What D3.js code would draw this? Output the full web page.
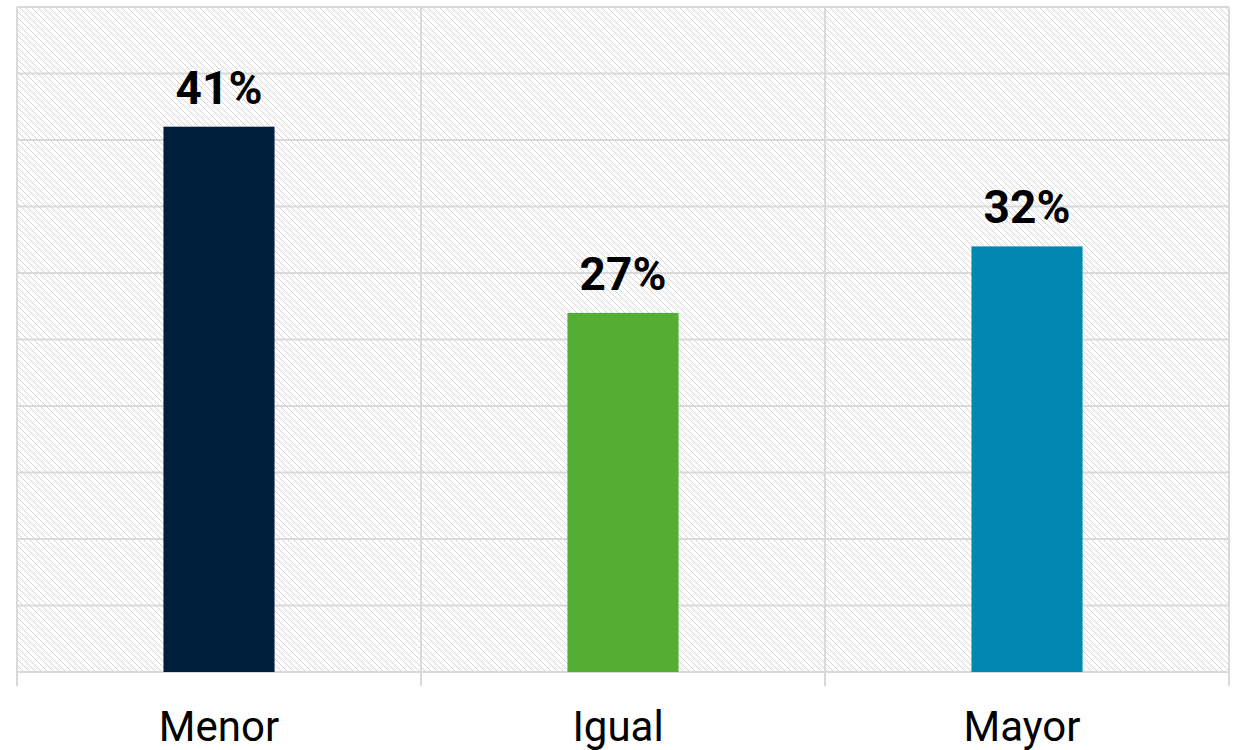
<!DOCTYPE html>
<html>
<head>
<meta charset="utf-8">
<script src="https://cdn.jsdelivr.net/npm/d3@7"></script>
<style>
  html, body { margin: 0; padding: 0; background: #fff; }
  svg { display: block; }
</style>
</head>
<body>
<svg id="chart" width="1235" height="750"></svg>
<script>
const categories = ["Menor", "Igual", "Mayor"];
const values = [41, 27, 32];
const colors = ["#001f3d", "#55ae34", "#0088b0"];
const yTicks = [0, 5, 10, 15, 20, 25, 30, 35, 40, 45, 50];

const svg = d3.select("#chart");
const plotLeft = 17, plotRight = 1229, plotTop = 7, plotBottom = 672;

const x = d3.scaleBand().domain(categories).range([plotLeft, plotRight])
  .paddingInner(0.725).paddingOuter(0.3625);
const y = d3.scaleLinear().domain([0, 50]).range([plotBottom, plotTop]);

const defs = svg.append("defs");
const pat = defs.append("pattern").attr("id", "hatch")
  .attr("patternUnits", "userSpaceOnUse").attr("width", 6).attr("height", 6);
pat.append("path").attr("d", "M-1,-1 L7,7 M5,-1 L7,1 M-1,5 L1,7")
  .attr("stroke", "#d4d4d4").attr("stroke-width", 1.2)
  .attr("shape-rendering", "crispEdges");

svg.append("rect").attr("x", plotLeft).attr("y", plotTop)
  .attr("width", plotRight - plotLeft).attr("height", plotBottom - plotTop)
  .attr("fill", "url(#hatch)");

// horizontal gridlines
svg.append("g").selectAll("line").data(yTicks).join("line")
  .attr("x1", plotLeft).attr("x2", plotRight)
  .attr("y1", d => y(d)).attr("y2", d => y(d))
  .attr("stroke", "#d9d9d9").attr("stroke-width", 2);

// vertical gridlines at band boundaries
const step = x.step();
const bounds = d3.range(categories.length + 1).map(i => plotLeft + i * step);
svg.append("g").selectAll("line").data(bounds).join("line")
  .attr("x1", d => d).attr("x2", d => d)
  .attr("y1", plotTop).attr("y2", plotBottom + 14)
  .attr("stroke", "#d9d9d9").attr("stroke-width", 2);

// bars
svg.append("g").selectAll("rect").data(values).join("rect")
  .attr("x", (d, i) => x(categories[i]))
  .attr("width", x.bandwidth())
  .attr("y", d => y(d))
  .attr("height", d => y(0) - y(d))
  .attr("fill", (d, i) => colors[i]);

// value labels
svg.append("g").selectAll("text").data(values).join("text")
  .attr("x", (d, i) => x(categories[i]) + x.bandwidth() / 2)
  .attr("y", d => y(d) - 23)
  .attr("text-anchor", "middle")
  .attr("font-family", "Roboto, sans-serif")
  .attr("font-weight", "bold")
  .attr("font-size", 46)
  .attr("fill", "#000")
  .text(d => d + "%");

// category labels
svg.append("g").selectAll("text").data(categories).join("text")
  .attr("x", d => x(d) + x.bandwidth() / 2)
  .attr("dx", (d, i) => i === 0 ? 0 : -5)
  .attr("y", 741)
  .attr("text-anchor", "middle")
  .attr("font-family", "Roboto, sans-serif")
  .attr("font-size", 42)
  .attr("fill", "#000")
  .text(d => d);
</script>
</body>
</html>
